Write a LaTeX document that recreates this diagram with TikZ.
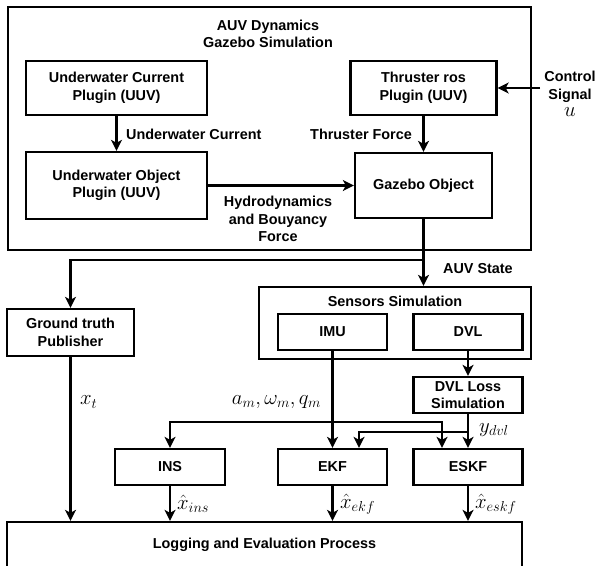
\documentclass[tikz,border=0pt]{standalone}
\usepackage{fontspec}
\setmainfont{Liberation Sans}
\usetikzlibrary{arrows.meta}
\begin{document}
\begin{tikzpicture}[x=1pt,y=-1pt,line width=2.3pt,
    font=\fontsize{14.4}{17.5}\selectfont\bfseries,
    box/.style={draw,rectangle,align=center,inner sep=0pt},
    lbl/.style={align=center,inner sep=0pt},
    mth/.style={inner sep=0pt,font=\fontsize{20}{22}\selectfont},
    arr/.style={-{Stealth[length=11pt,width=11pt,inset=3pt]}}]
  \useasboundingbox (0,0) rectangle (601,565);
  \node[box,minimum width=523,minimum height=243] (auv) at (269.5,128.5) {};
  \node[lbl] (auvtitle) at (268,34) {AUV Dynamics\\Gazebo Simulation};
  \node[box,minimum width=181,minimum height=54] (ucur) at (116.5,88) {Underwater Current\\Plugin (UUV)};
  \node[box,minimum width=181,minimum height=67] (uobj) at (116.5,185.5) {Underwater Object\\Plugin (UUV)};
  \node[box,minimum width=146,minimum height=54] (thr) at (423.5,88) {Thruster ros\\Plugin (UUV)};
  \node[box,minimum width=137,minimum height=65] (gaz) at (423.5,185.5) {Gazebo Object};
  \node[lbl] (ctrltxt) at (570,94) {Control\\Signal\\{\mdseries\fontsize{20}{20}\selectfont$u$}};
  \coordinate (ctrl) at (540,88);
  \coordinate (split) at (423.5,260);
  \node[box,minimum width=272,minimum height=72] (sens) at (395,323) {};
  \node[lbl] (senstitle) at (395,301) {Sensors Simulation};
  \node[box,minimum width=109,minimum height=36] (imu) at (332.5,332) {IMU};
  \node[box,minimum width=109,minimum height=36] (dvl) at (468,332) {DVL};
  \node[box,minimum width=109,minimum height=36] (dvlloss) at (468,395) {DVL Loss\\Simulation};
  \node[box,minimum width=127,minimum height=47] (gt) at (70.5,332.5) {Ground truth\\Publisher};
  \node[box,minimum width=110,minimum height=36] (ins) at (170,467) {INS};
  \node[box,minimum width=109,minimum height=36] (ekf) at (332.5,467) {EKF};
  \node[box,minimum width=109,minimum height=36] (eskf) at (468,467) {ESKF};
  \node[box,minimum width=515,minimum height=46] (log) at (264.5,545) {Logging and Evaluation Process};
  \coordinate (imubr) at (332.5,422);
  \coordinate (dvlbr) at (468,432);
  \begin{scope}[arr]
    \draw (ucur) -- (uobj);
    \draw (uobj) -- (gaz);
    \draw (thr) -- (gaz);
    \draw (ctrl) -- (thr);
    \draw (gaz.south) -- (gaz.south |- sens.north);
    \draw (split) -| (gt.north);
    \draw (dvl) -- (dvlloss);
    \draw (imu) -- (ekf);
    \draw (imubr) -| (ins.north);
    \draw (imubr) -| ([xshift=-26pt]eskf.north);
    \draw (dvlloss) -- (eskf);
    \draw (dvlbr) -| ([xshift=26.5pt]ekf.north);
    \draw (gt.south) -- (gt.south |- log.north);
    \draw (ins.south) -- (ins.south |- log.north);
    \draw (ekf.south) -- (ekf.south |- log.north);
    \draw (eskf.south) -- (eskf.south |- log.north);
  \end{scope}
  \node[lbl,anchor=west] (lcur) at (125,134) {Underwater Current};
  \node[lbl,anchor=east] (lthr) at (413,134) {Thruster Force};
  \node[lbl] (lhyd) at (278,219) {Hydrodynamics\\and Bouyancy\\Force};
  \node[lbl,anchor=west] (lstate) at (442,269) {AUV State};
  \node[mth,anchor=east] (lmeas) at (322,402) {$a_m,\omega_m,q_m$};
  \node[mth,anchor=west] (lxt) at (79,402) {$x_t$};
  \node[mth,anchor=west] (lydvl) at (478,430) {$y_{dvl}$};
  \node[mth,anchor=west] (lxins) at (176,504) {$\hat{x}_{ins}$};
  \node[mth,anchor=west] (lxekf) at (339,504) {$\hat{x}_{ekf}$};
  \node[mth,anchor=west] (lxeskf) at (474,504) {$\hat{x}_{eskf}$};
\end{tikzpicture}
\end{document}
